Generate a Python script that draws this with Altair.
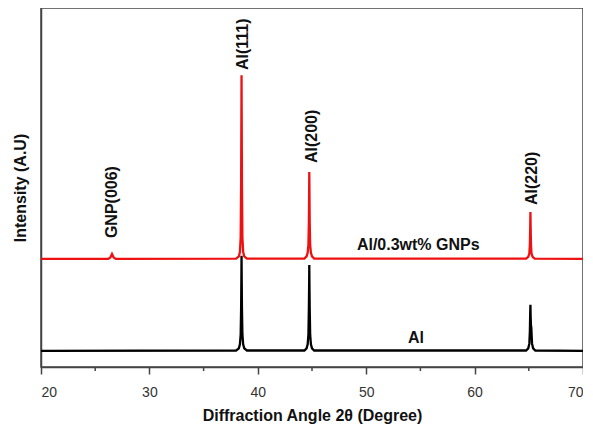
import altair as alt
import pandas as pd

# Al (black) pattern points: 2theta, intensity (arbitrary units)
al_x = [20, 38.0, 38.25, 38.35, 38.42, 38.46, 38.49, 38.5, 38.51, 38.54, 38.58, 38.65, 38.75, 39.0,
        44.3, 44.5, 44.6, 44.67, 44.71, 44.74, 44.75, 44.76, 44.79, 44.83, 44.9, 45.0, 45.2,
        64.75, 64.95, 65.05, 65.1, 65.13, 65.15, 65.17, 65.2, 65.23, 65.26, 65.3, 65.4, 65.6, 70]
al_y = [4.5, 4.6, 5.2, 6.3, 9, 16, 26, 31, 26, 16, 9, 6.3, 5.2, 4.6,
        4.6, 5.2, 6.3, 9, 16, 24, 28.4, 24, 16, 9, 6.3, 5.2, 4.6,
        4.6, 5.2, 6.5, 10, 15, 17.3, 14, 11.5, 11.1, 9, 6.5, 5.2, 4.6, 4.5]

# Al/0.3wt% GNPs (red) pattern points
gnp_x = [20, 26.2, 26.4, 26.55, 26.7, 26.9,
         38.0, 38.25, 38.35, 38.42, 38.46, 38.49, 38.5, 38.51, 38.54, 38.58, 38.65, 38.75, 39.0,
         44.3, 44.5, 44.6, 44.67, 44.71, 44.74, 44.75, 44.76, 44.79, 44.83, 44.9, 45.0, 45.2,
         64.75, 64.95, 65.05, 65.1, 65.13, 65.15, 65.17, 65.2, 65.25, 65.35, 65.55, 70]
gnp_y = [30.1, 30.1, 30.5, 31.5, 30.5, 30.1,
         30.2, 30.8, 32, 36, 50, 72, 81.3, 72, 50, 36, 32, 30.8, 30.2,
         30.2, 30.8, 31.8, 34, 40, 50, 54.3, 50, 40, 34, 31.8, 30.8, 30.2,
         30.2, 30.7, 31.6, 34, 39, 43.2, 39, 34, 31.6, 30.7, 30.2, 30.1]

# Peak labels (vertical)
peak_labels = ["GNP(006)", "Al(111)", "Al(200)", "Al(220)"]
peak_label_x = [26.55, 38.63, 45.0, 65.3]
peak_label_y = [35.9, 82.7, 56.8, 45.1]

# Series labels (horizontal)
series_labels = ["Al/0.3wt% GNPs", "Al"]
series_label_x = [54.8, 54.6]
series_label_y = [34.0, 8.1]

major_ticks = [20, 30, 40, 50, 60, 70]
minor_ticks = [25, 35, 45, 55, 65]

FONT = "Liberation Sans"

al_df = pd.DataFrame({"x": al_x, "y": al_y})
gnp_df = pd.DataFrame({"x": gnp_x, "y": gnp_y})
pk_df = pd.DataFrame({"x": peak_label_x, "y": peak_label_y, "t": peak_labels})
sl_df = pd.DataFrame({"x": series_label_x, "y": series_label_y, "t": series_labels})
mt_df = pd.DataFrame({"x": minor_ticks})

xscale = alt.Scale(domain=[20, 70], nice=False, zero=False)
yscale = alt.Scale(domain=[0, 100], nice=False, zero=False)

x_axis = alt.Axis(values=major_ticks, title="Diffraction Angle 2θ (Degree)", grid=False,
                  tickSize=7, tickColor="#444", tickWidth=1.5, domainColor="#444", domainWidth=1.5,
                  labelFont=FONT, labelFontSize=14, labelColor="#333", labelPadding=11,
                  titleFont=FONT, titleFontSize=16, titleFontWeight="bold", titleColor="#111",
                  titlePadding=8)
y_axis = alt.Axis(labels=False, ticks=False, grid=False, title="Intensity (A.U)",
                  domainColor="#444", domainWidth=1.5,
                  titleFont=FONT, titleFontSize=16, titleFontWeight="bold", titleColor="#111",
                  titlePadding=13)

X = alt.X("x:Q", scale=xscale, axis=x_axis)
Y = alt.Y("y:Q", scale=yscale, axis=y_axis)

al_line = alt.Chart(al_df).mark_line(color="#000000", strokeWidth=2.3).encode(x=X, y=Y)
gnp_line = alt.Chart(gnp_df).mark_line(color="#ee1111", strokeWidth=2.3).encode(x=X, y=Y)
pk_text = alt.Chart(pk_df).mark_text(angle=270, align="left", baseline="middle", font=FONT,
                                     fontSize=16, fontWeight="bold", color="#111").encode(
    x=X, y=Y, text="t:N")
sl_text = alt.Chart(sl_df).mark_text(align="center", baseline="middle", font=FONT,
                                     fontSize=16, fontWeight="bold", color="#111").encode(
    x=X, y=Y, text="t:N")
minor = alt.Chart(mt_df).mark_rule(color="#444", strokeWidth=1.5).encode(
    x=X,
    y=alt.value(359),
    y2=alt.value(363),
)

chart = alt.layer(al_line, gnp_line, pk_text, sl_text, minor).properties(
    width=542, height=359,
    background="white",
    autosize=alt.AutoSizeParams(type="none"),
    padding={"left": 33, "top": 0, "right": 0, "bottom": 58},
).configure_view(stroke="#444", strokeWidth=1.5)

chart.save("out.html", embed_options={"renderer": "svg", "actions": False})
